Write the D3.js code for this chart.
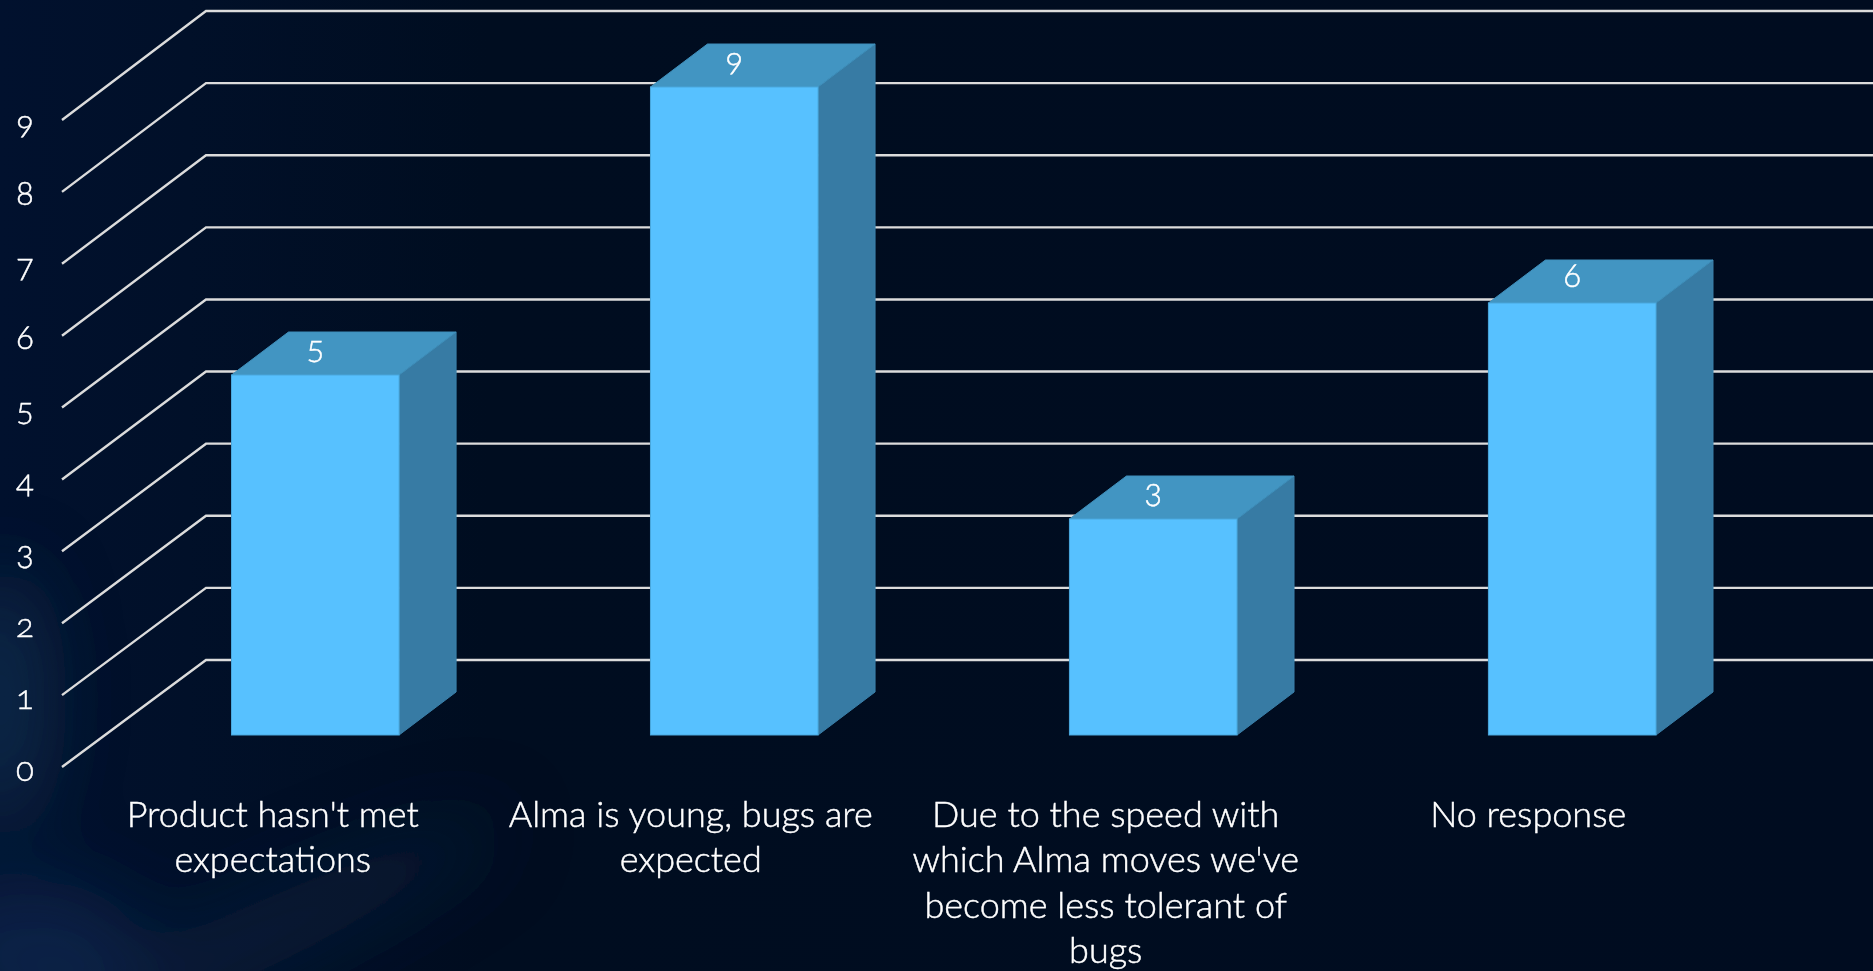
<!DOCTYPE html>
<html>
<head>
<meta charset="utf-8">
<script src="https://cdn.jsdelivr.net/npm/d3@7"></script>
<style>
  html, body { margin: 0; padding: 0; background: #000c20; overflow: hidden; }
  svg { display: block; }
  text { font-family: Lato, "Open Sans", sans-serif; font-weight: 300; fill: #fff; stroke: #fff; stroke-width: 0.45; font-feature-settings: "onum"; }
</style>
</head>
<body>
<svg width="1873" height="971"></svg>
<script>
const categories = ["Product hasn't met expectations", "Alma is young, bugs are expected",
  "Due to the speed with which Alma moves we've become less tolerant of bugs", "No response"];
const categoryLines = [
  ["Product hasn't met", "expectations"],
  ["Alma is young, bugs are", "expected"],
  ["Due to the speed with", "which Alma moves we've", "become less tolerant of", "bugs"],
  ["No response"]
];
const values = [5, 9, 3, 6];
const tickValues = [0, 1, 2, 3, 4, 5, 6, 7, 8, 9];

const svg = d3.select('svg');
const width = +svg.attr('width');
const height = +svg.attr('height');

// background
const defs = svg.append('defs');
const base = defs.append('linearGradient').attr('id', 'base').attr('x1', 0).attr('x2', 1).attr('y1', 0).attr('y2', 0);
base.append('stop').attr('offset', '0%').attr('stop-color', '#01112e');
base.append('stop').attr('offset', '10%').attr('stop-color', '#011029');
base.append('stop').attr('offset', '26%').attr('stop-color', '#000d20');
base.append('stop').attr('offset', '100%').attr('stop-color', '#000c20');
defs.append('filter').attr('id', 'soft').attr('x', '-50%').attr('y', '-50%').attr('width', '200%').attr('height', '200%')
  .append('feGaussianBlur').attr('stdDeviation', 40);
svg.append('rect').attr('width', width).attr('height', height).attr('fill', 'url(#base)');
const glowG = svg.append('g').attr('filter', 'url(#soft)');
glowG.append('ellipse').attr('cx', 0).attr('cy', 700).attr('rx', 40).attr('ry', 130)
  .attr('fill', '#1c3f63').attr('opacity', 0.6);
glowG.append('ellipse').attr('cx', 230).attr('cy', 950).attr('rx', 300).attr('ry', 35)
  .attr('transform', 'rotate(-25 230 950)').attr('fill', '#123256').attr('opacity', 0.4);
glowG.append('ellipse').attr('cx', 30).attr('cy', 950).attr('rx', 110).attr('ry', 70)
  .attr('fill', '#0f3260').attr('opacity', 0.5);

// 3d layout
const depthX = 57, depthY = 43;
const yBar = d3.scaleLinear().domain([0, 9]).range([735, 87]);
const yBack = d3.scaleLinear().domain([0, 9]).range([660, 11]);
const yFront = d3.scaleLinear().domain([0, 9]).range([767, 120]);
const x = d3.scaleBand().domain(categories).range([231.5, 1656]).paddingInner(0.6).paddingOuter(0);

// gridlines: side edge then back wall
const gridG = svg.append('g');
gridG.selectAll('path').data(tickValues).enter().append('path')
  .attr('d', d => `M62,${yFront(d)}L206,${yBack(d)}L${width},${yBack(d)}`)
  .attr('fill', 'none').attr('stroke', '#dcdcdc').attr('stroke-width', 2.4);

// value axis, labels only
const yAxis = d3.axisLeft(yFront).tickValues(tickValues).tickSize(0).tickPadding(0);
const yAxisG = svg.append('g').attr('transform', 'translate(38,0)').call(yAxis);
yAxisG.select('.domain').remove();
yAxisG.selectAll('text').attr('font-size', 33).attr('dy', 13)
  .style('font-family', 'Lato, "Open Sans", sans-serif').style('text-anchor', 'middle').attr('x', -13);

// bars
const bars = svg.append('g').selectAll('g').data(values).enter().append('g');
const left = (d, i) => x(categories[i]);
const right = (d, i) => x(categories[i]) + x.bandwidth();

bars.append('path')
  .attr('d', (d, i) => `M${right(d, i)},${yBar(d)}L${right(d, i) + depthX},${yBar(d) - depthY}L${right(d, i) + depthX},${yBar(0) - depthY}L${right(d, i)},${yBar(0)}Z`)
  .attr('fill', '#377ba4').attr('stroke', '#3a80aa').attr('stroke-width', 1);
bars.append('path')
  .attr('d', (d, i) => `M${left(d, i)},${yBar(d)}L${left(d, i) + depthX},${yBar(d) - depthY}L${right(d, i) + depthX},${yBar(d) - depthY}L${right(d, i)},${yBar(d)}Z`)
  .attr('fill', '#4295c2').attr('stroke', '#3f8fbb').attr('stroke-width', 1);
bars.append('rect')
  .attr('x', left)
  .attr('y', d => yBar(d))
  .attr('width', x.bandwidth())
  .attr('height', d => yBar(0) - yBar(d))
  .attr('fill', '#57c1ff').attr('stroke', '#4aa8de').attr('stroke-width', 1);

// value labels sit on the top face
bars.append('text')
  .attr('x', (d, i) => left(d, i) + x.bandwidth() / 2)
  .attr('y', d => yBar(d) - 16)
  .attr('text-anchor', 'middle').attr('font-size', 33)
  .text(d => d);

// category labels
const labelShift = [-42.5, -43.5, -47.5, -44];
const labels = svg.append('g').selectAll('text').data(categoryLines).enter().append('text')
  .attr('text-anchor', 'middle').attr('font-size', 36);
labels.selectAll('tspan').data((d, i) => d.map(line => ({ line, i }))).enter().append('tspan')
  .attr('x', d => x(categories[d.i]) + x.bandwidth() / 2 + labelShift[d.i])
  .attr('y', (d, j) => 827 + j * 45.4)
  .text(d => d.line);
</script>
</body>
</html>
